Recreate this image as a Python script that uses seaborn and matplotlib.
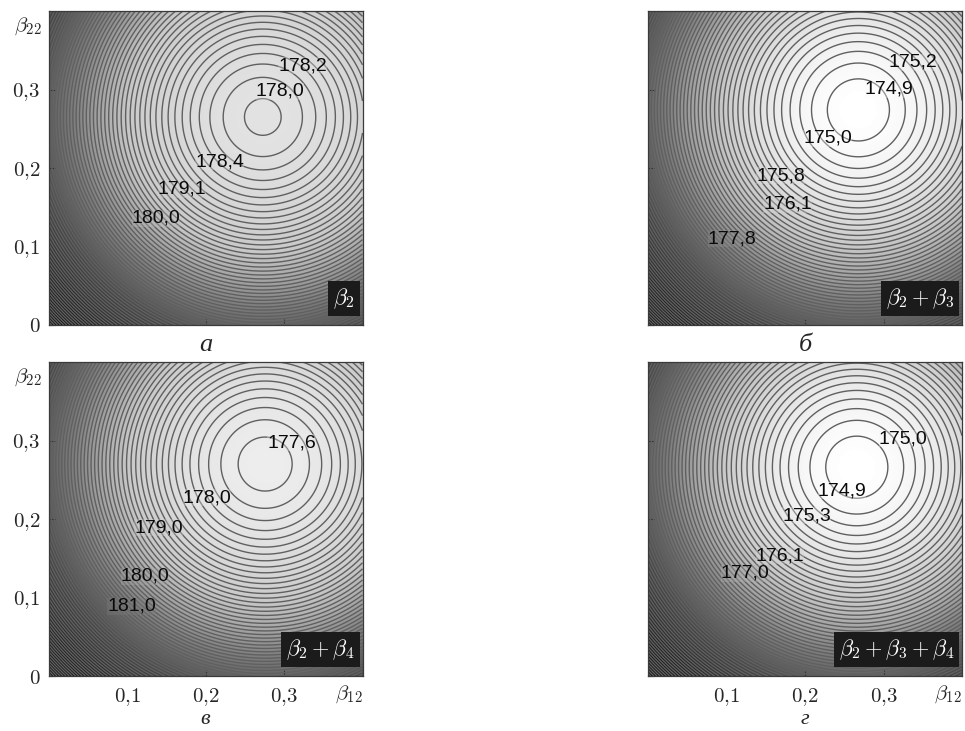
import numpy as np
import matplotlib
matplotlib.use("Agg")
import matplotlib.pyplot as plt
from matplotlib.colors import LinearSegmentedColormap, Normalize
import seaborn as sns

sns.set_style("ticks")
plt.rcParams["mathtext.fontset"] = "cm"
plt.rcParams["font.family"] = ["Liberation Sans", "DejaVu Sans"]

# ------------------------------------------------------------
# panel data (а, б, в, г)
# ------------------------------------------------------------
panel_letters = ["а", "б", "в", "г"]
panel_tags = [r"$\beta_2$", r"$\beta_2 + \beta_3$",
              r"$\beta_2 + \beta_4$", r"$\beta_2 + \beta_3 + \beta_4$"]

# minimum of each surface and where it sits (beta_12, beta_22)
min_x = [0.273, 0.268, 0.276, 0.266]
min_y = [0.265, 0.274, 0.270, 0.266]
min_z = [178.03, 174.85, 177.60, 174.87]
curvature = [55.0, 55.0, 55.0, 55.0]
first_level = [0.03, 0.086, 0.065, 0.086]
level_step = 0.11
centre_gray = [0.89, 1.0, 0.93, 1.0]

# contour labels written on each panel
label_text = [
    ["178,2", "178,0", "178,4", "179,1", "180,0"],
    ["175,2", "174,9", "175,0", "175,8", "176,1", "177,8"],
    ["177,6", "178,0", "179,0", "180,0", "181,0"],
    ["175,0", "174,9", "175,3", "176,1", "177,0"],
]
label_x = [
    [0.324, 0.295, 0.218, 0.170, 0.137],
    [0.338, 0.307, 0.229, 0.169, 0.178, 0.107],
    [0.310, 0.202, 0.140, 0.123, 0.106],
    [0.325, 0.247, 0.202, 0.168, 0.124],
]
label_y = [
    [0.330, 0.298, 0.208, 0.173, 0.136],
    [0.335, 0.300, 0.238, 0.190, 0.154, 0.110],
    [0.297, 0.227, 0.189, 0.127, 0.089],
    [0.302, 0.236, 0.204, 0.153, 0.131],
]

tick_vals = [0.1, 0.2, 0.3]
tick_labels = [r"$0{,}1$", r"$0{,}2$", r"$0{,}3$"]

# ------------------------------------------------------------
# figure
# ------------------------------------------------------------
fig = plt.figure(figsize=(9.65, 7.31), dpi=100)

ax_w, ax_h = 314 / 965, 314 / 731
lefts = [48.5 / 965, 648 / 965]
bottoms = [(731 - 325) / 731, (731 - 676) / 731]

grid = np.linspace(0, 0.4, 401)
X, Y = np.meshgrid(grid, grid)

for i in range(4):
    row, col = divmod(i, 2)
    ax = fig.add_axes([lefts[col], bottoms[row], ax_w, ax_h])

    Z = min_z[i] + curvature[i] * ((X - min_x[i]) ** 2 + (Y - min_y[i]) ** 2)
    z_top = Z.max()

    c0 = centre_gray[i]
    cmap = LinearSegmentedColormap.from_list(
        "shade",
        [(0.0, (c0, c0, c0)), (0.2, (0.79,) * 3), (0.4, (0.5,) * 3),
         (0.6, (0.28,) * 3), (0.8, (0.13,) * 3), (1.0, (0.03,) * 3)])
    norm = Normalize(vmin=min_z[i], vmax=z_top)

    ax.imshow(Z, extent=(0, 0.4, 0, 0.4), origin="lower", cmap=cmap,
              norm=norm, interpolation="bilinear", aspect="auto")
    levels = np.arange(min_z[i] + first_level[i], z_top, level_step)
    ax.contour(X, Y, Z, levels=levels, colors="#606060", linewidths=1.0)

    for txt, lx, ly in zip(label_text[i], label_x[i], label_y[i]):
        zc = min_z[i] + curvature[i] * ((lx - min_x[i]) ** 2 + (ly - min_y[i]) ** 2)
        ax.text(lx, ly, txt, ha="center", va="center", fontsize=14,
                color="#0a0a0a",
                bbox=dict(boxstyle="square,pad=0.0", fc=cmap(norm(zc)),
                          ec="none", alpha=0.35))

    ax.text(0.975, 0.045, panel_tags[i], transform=ax.transAxes,
            ha="right", va="bottom", color="white", fontsize=16,
            bbox=dict(boxstyle="square,pad=0.22", fc="#1b1b1b", ec="none"))

    ax.set_xlim(0, 0.4)
    ax.set_ylim(0, 0.4)
    ax.set_xticks(tick_vals)
    ax.set_yticks([0.0] + tick_vals)
    ax.tick_params(direction="in", length=4, width=0.8, color="#333333",
                   labelsize=15, pad=6)
    ax.tick_params(axis="x", pad=7)
    for sp in ax.spines.values():
        sp.set_color("#3a3a3a")
        sp.set_linewidth(0.9)

    if col == 0:
        ax.set_yticklabels([r"$0$"] + tick_labels)
        ax.text(-0.065, 0.95, r"$\beta_{22}$", transform=ax.transAxes,
                ha="center", va="center", fontsize=15)
    else:
        ax.set_yticklabels([])

    if row == 1:
        ax.set_xticklabels(tick_labels)
        ax.text(0.955, -0.058, r"$\beta_{12}$", transform=ax.transAxes,
                ha="center", va="center", fontsize=15)
        # letter sits at the very bottom edge of the figure
        fig.text(lefts[col] + ax_w / 2, 0.003, panel_letters[i],
                 ha="center", va="bottom", fontsize=16, style="italic",
                 family=["Liberation Serif", "DejaVu Serif"])
    else:
        ax.set_xticklabels([])
        ax.text(0.5, -0.064, panel_letters[i], transform=ax.transAxes,
                ha="center", va="center", fontsize=19, style="italic",
                family=["Liberation Serif", "DejaVu Serif"])

fig.savefig("out.png", dpi=100)
